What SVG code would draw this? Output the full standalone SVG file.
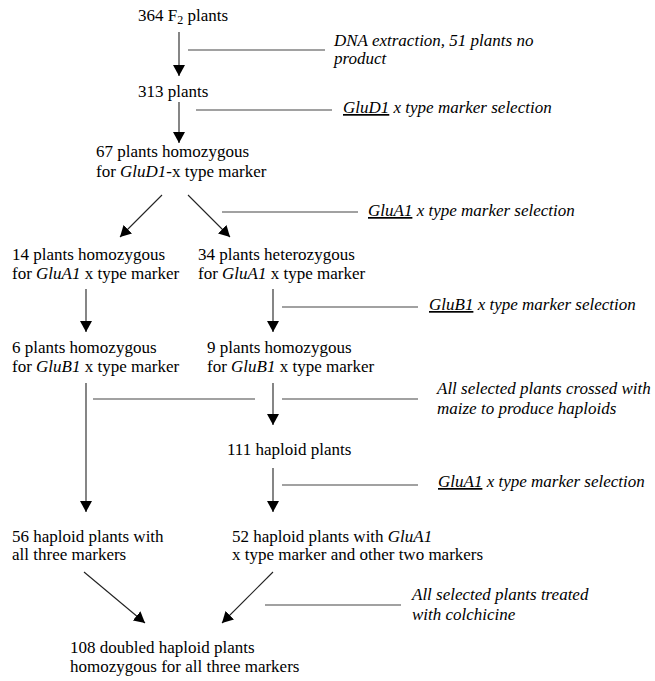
<svg xmlns="http://www.w3.org/2000/svg" width="655" height="681" viewBox="0 0 655 681">
<defs>
<marker id="ah" viewBox="0 0 11 12" refX="11" refY="6" markerWidth="11" markerHeight="12" markerUnits="userSpaceOnUse" orient="auto">
<path d="M0,0 L11,6 L0,12 z" fill="#000"/>
</marker>
<style>
text{font-family:'Liberation Serif','Times New Roman',Times,serif;font-size:17px;fill:#000}
.a{font-style:italic}
.g{font-style:italic}
.u{text-decoration:underline}
.arr{stroke:#222;stroke-width:1.1;fill:none;marker-end:url(#ah)}
.ln{stroke:#444;stroke-width:1.1;fill:none}
</style>
</defs>
<rect width="655" height="681" fill="#fff"/>
<g id="connectors">
<line class="arr" x1="179" y1="32" x2="179" y2="76"/>
<line class="arr" x1="179" y1="102" x2="179" y2="143"/>
<line class="arr" x1="162" y1="195" x2="120" y2="237"/>
<line class="arr" x1="188" y1="195" x2="230" y2="237"/>
<line class="arr" x1="86" y1="289" x2="86" y2="332"/>
<line class="arr" x1="273" y1="289" x2="273" y2="332"/>
<line class="arr" x1="86" y1="383" x2="86" y2="512"/>
<line class="arr" x1="273" y1="383" x2="273" y2="425"/>
<line class="arr" x1="273" y1="468" x2="273" y2="512"/>
<line class="arr" x1="84" y1="572" x2="145" y2="623"/>
<line class="arr" x1="273" y1="572" x2="222" y2="623"/>
<line class="ln" x1="188" y1="50" x2="325" y2="50"/>
<line class="ln" x1="196" y1="110" x2="332" y2="110"/>
<line class="ln" x1="222" y1="212" x2="358" y2="212"/>
<line class="ln" x1="282" y1="307" x2="418" y2="307"/>
<line class="ln" x1="93" y1="399" x2="255" y2="399"/>
<line class="ln" x1="282" y1="399" x2="418" y2="399"/>
<line class="ln" x1="282" y1="485" x2="418" y2="485"/>
<line class="ln" x1="265" y1="605" x2="401" y2="605"/>
</g>
<g id="n1"><text x="138" y="21">364 F<tspan font-size="12" dy="3">2</tspan><tspan dy="-3"> plants</tspan></text></g>
<g id="a1"><text class="a" x="334" y="46">DNA extraction, 51 plants no</text><text class="a" x="334" y="64">product</text></g>
<g id="n2"><text x="138" y="97">313 plants</text></g>
<g id="a2"><text class="a" x="343" y="113"><tspan class="u">GluD1</tspan> x type marker selection</text></g>
<g id="n3"><text x="96" y="157">67 plants homozygous</text><text x="96" y="177">for <tspan class="g">GluD1</tspan>-x type marker</text></g>
<g id="a3"><text class="a" x="368" y="216"><tspan class="u">GluA1</tspan> x type marker selection</text></g>
<g id="n4"><text x="12" y="260">14 plants homozygous</text><text x="12" y="279">for <tspan class="g">GluA1</tspan> x type marker</text></g>
<g id="n5"><text x="198" y="260">34 plants heterozygous</text><text x="198" y="279">for <tspan class="g">GluA1</tspan> x type marker</text></g>
<g id="a4"><text class="a" x="429" y="310"><tspan class="u">GluB1</tspan> x type marker selection</text></g>
<g id="n6"><text x="12" y="353">6 plants homozygous</text><text x="12" y="372">for <tspan class="g">GluB1</tspan> x type marker</text></g>
<g id="n7"><text x="207" y="353">9 plants homozygous</text><text x="207" y="372">for <tspan class="g">GluB1</tspan> x type marker</text></g>
<g id="a5"><text class="a" x="437" y="394">All selected plants crossed with</text><text class="a" x="437" y="414">maize to produce haploids</text></g>
<g id="n8"><text x="227" y="455">111 haploid plants</text></g>
<g id="a6"><text class="a" x="438" y="487"><tspan class="u">GluA1</tspan> x type marker selection</text></g>
<g id="n9"><text x="12" y="542">56 haploid plants with</text><text x="12" y="560">all three markers</text></g>
<g id="n10"><text x="232" y="542">52 haploid plants with <tspan class="g">GluA1</tspan></text><text x="232" y="560">x type marker and other two markers</text></g>
<g id="a7"><text class="a" x="412" y="600">All selected plants treated</text><text class="a" x="412" y="620">with colchicine</text></g>
<g id="n11"><text x="70" y="653">108 doubled haploid plants</text><text x="70" y="672">homozygous for all three markers</text></g>
</svg>
